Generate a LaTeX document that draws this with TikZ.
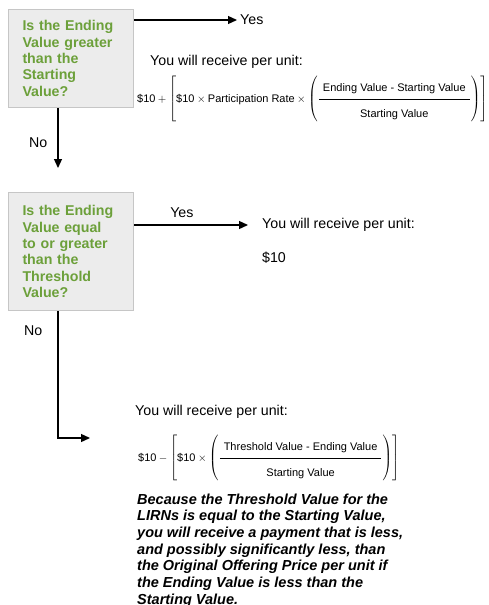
\documentclass[tikz,border=0pt]{standalone}
\usepackage{amsmath}
\usepackage{fontspec}
\setmainfont{Liberation Sans}
\usetikzlibrary{arrows.meta,positioning}
\definecolor{qgreen}{RGB}{108,160,58}
\newcommand{\numstrut}{\rule[-6pt]{0pt}{6pt}}
\newcommand{\denstrut}{\rule[-7pt]{0pt}{23.5pt}}
\newcommand{\numpad}[1]{\hspace{4pt}#1\hspace{4pt}}

\begin{document}
\begin{tikzpicture}[x=1pt,y=-1pt]
	\tikzstyle{qbox}=[draw=gray!45,fill=gray!15,line width=1pt,text=qgreen,font=\fontsize{14.2}{16.3}\selectfont\bfseries,align=left,inner xsep=14pt,text width=97pt,anchor=north west];
	\tikzstyle{txt}=[inner sep=0pt,font=\fontsize{14.2}{17}\selectfont];
	\tikzstyle{formula}=[inner sep=0pt,font=\fontsize{11}{13}\selectfont,anchor=base west];
	\tikzstyle{flow}=[line width=1.3pt,-{Triangle[length=9pt,width=8pt]}];
	\useasboundingbox (0,0) rectangle (488,605);

	% first question
	\node[qbox,minimum height=98pt] (q1) at (8,9) {Is the Ending\\Value greater\\than the\\Starting\\Value?};
	\node[txt,anchor=west] (yes1) at (240,20) {Yes};
	\node[txt,anchor=west] (r1) at (150,62) {You will receive per unit:};
	\node[formula] (f1) at (137,102) {$\text{\$10} + \left[\text{\$10}\times\text{Participation Rate}\times\left(\dfrac{\numstrut\numpad{\text{Ending Value - Starting Value}}}{\denstrut\text{Starting Value}}\right)\right]$};
	\coordinate (d1) at (58,168);

	% second question
	\node[qbox,minimum height=118pt] (q2) at (8,192) {Is the Ending\\Value equal\\to or greater\\than the\\Threshold\\Value?};
	\node[txt,anchor=west] (r2) at (262,225) {You will receive per unit:};
	\node[txt,anchor=west] (p2) at (262,258) {\$10};
	\coordinate (c3) at (58,438);
	\coordinate (d3) at (90,438);
	\node[txt,anchor=west] (r3) at (135,412) {You will receive per unit:};
	\node[formula] (f2) at (138,461) {$\text{\$10} - \left[\text{\$10}\times\left(\dfrac{\numstrut\numpad{\text{Threshold Value - Ending Value}}}{\denstrut\text{Starting Value}}\right)\right]$};
	\node[txt,anchor=north west,align=left,font=\fontsize{14.5}{16.7}\selectfont\bfseries\itshape] (note) at (137,493.4) {Because the Threshold Value for the\\LIRNs is equal to the Starting Value,\\you will receive a payment that is less,\\and possibly significantly less, than\\the Original Offering Price per unit if\\the Ending Value is less than the\\Starting Value.};

	% connectors
	\draw[flow] (q1.east |- yes1) -- ([xshift=-3pt]yes1.west);
	\draw[flow] (q1.south -| d1) -- node[txt,pos=0.57,left=10pt]{No} (d1);
	\draw[flow] (q2.east |- r2) -- node[txt,pos=0.42,above=6.8pt]{Yes} ([xshift=-14pt]r2.west);
	\draw[flow] (q2.south -| c3) -- node[txt,pos=0.156,left=15pt]{No} (c3) -- (d3);
\end{tikzpicture}
\end{document}
